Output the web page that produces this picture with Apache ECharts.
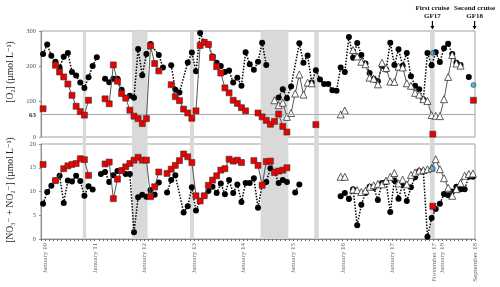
<!DOCTYPE html>
<html><head><meta charset="utf-8">
<script src="https://cdn.jsdelivr.net/npm/echarts@6/dist/echarts.min.js"></script>
<style>html,body{margin:0;padding:0;background:#fff}#c{width:500px;height:287px}</style>
</head><body><div id="c"></div><script>
// ---- data (dates as YYYY-MM = mid-month, or YYYY-MM-DD) ----
const tickLabels = {1:'January 10',13:'January 11',25:'January 12',37:'January 13',49:'January 14',61:'January 15',73:'January 16',85:'January 17',95:'November 17',97:'January 18',105:'September 18'};
const bands = [['2010-10-04','2010-10-28'],['2011-10-01','2012-01-25'],['2012-12-02','2013-01-01'],['2014-05-05','2014-11-26'],['2015-06-04','2015-07-07'],['2017-10-04','2017-11-08']];
const o2Threshold = 63;
const cruises = [['First cruise','GF17','2017-10-22'],['Second cruise','GF18','2018-08-28']];

const o2Circles = [
['2009-12',235],['2010-01',262],['2010-02',230],['2010-03',213],['2010-04',197],['2010-05',227],['2010-06',238],['2010-07',184],['2010-08',174],['2010-09',154],['2010-10',139],['2010-11',169],['2010-12',201],['2011-01',226],['2011-02',null],
['2011-03',165],['2011-04',155],['2011-05',165],['2011-06',165],['2011-07',134],['2011-08',111],['2011-09',117],['2011-10',111],['2011-11',249],['2011-12',175],['2012-01',235],['2012-02',263],['2012-04',232],['2012-05',197],['2012-06',null],
['2012-07',203],['2012-08',134],['2012-09',126],['2012-11',211],['2012-12',239],['2013-01',186],['2013-02',294],['2013-03',268],['2013-04',262],['2013-05',228],['2013-06',210],['2013-07',201],['2013-08',184],['2013-09',188],['2013-10',154],['2013-11',168],['2013-12',145],['2014-01',240],['2014-02',206],['2014-03',190],['2014-04',213],['2014-05',267],['2014-06',204],['2014-07',null],
['2014-09',112],['2014-10',135],['2014-11',110],['2014-12',143],['2015-02',265],['2015-03',210],['2015-04',231],['2015-05',154],['2015-06',189],['2015-07',163],['2015-08',150],['2015-09',150],['2015-10',132],['2015-11',131],['2015-12',197],['2016-01',184],['2016-02',283],['2016-03',224],['2016-04',266],['2016-05',232],['2016-06',208],['2016-07',181],['2016-08',165],['2016-09',158],['2016-10',201],['2016-11',191],['2016-12',267],['2017-01',204],['2017-02',248],['2017-03',202],['2017-04',238],['2017-05',172],['2017-06',145],['2017-07',135],['2017-08',106],['2017-09',238],['2017-10',203],['2017-11',240],['2017-12',212],['2018-01',251],['2018-02',264],['2018-03',235],['2018-04',210],['2018-05',204],['2018-06',null],['2018-07',170]
];
const o2Squares = [
['2009-12',80],['2010-01',null],['2010-03',203],['2010-04',184],['2010-05',170],['2010-06',150],['2010-07',118],['2010-08',87],['2010-09',72],['2010-10',62],['2010-11',104],['2010-12',null],
['2011-03',108],['2011-04',94],['2011-05',204],['2011-06',158],['2011-07',123],['2011-08',110],['2011-09',76],['2011-10',59],['2011-11',52],['2011-12',38],['2012-01',52],['2012-02',258],['2012-03',208],['2012-04',187],['2012-05',null],
['2012-07',148],['2012-08',114],['2012-09',103],['2012-10',79],['2012-11',68],['2012-12',53],['2013-01',74],['2013-02',259],['2013-03',268],['2013-04',262],['2013-05',225],['2013-06',199],['2013-07',181],['2013-08',139],['2013-09',125],['2013-10',104],['2013-11',95],['2013-12',83],['2014-01',74],['2014-02',null],
['2014-04',68],['2014-05',57],['2014-06',47],['2014-07',36],['2014-08',44],['2014-09',65],['2014-10',30],['2014-11',14],['2014-12',null],
['2015-06',35],['2015-07',null],['2017-10-25',8],['2017-11',null],['2018-08-20',104]
];
const o2Triangles = [
['2014-08',104],['2014-09',90],['2014-10',97],['2014-11',57],['2014-12',68],['2015-01',123],['2015-02',177],['2015-03',120],['2015-04',154],['2015-05',152],['2015-06',null],
['2015-12',64],['2016-01',75],['2016-02',null],
['2016-03',246],['2016-04',228],['2016-05',213],['2016-06',206],['2016-07',168],['2016-08',165],['2016-09',149],['2016-10',210],['2016-11',195],['2016-12',157],['2017-01',156],['2017-02',199],['2017-03',197],['2017-04',152],['2017-05',145],['2017-06',125],['2017-07',120],['2017-08',107],['2017-09',102],['2017-10',62],['2017-11',60],['2017-12',59],['2018-01',107],['2018-02',170],['2018-03',232],['2018-04',208],['2018-05',202]
];
const o2Cruise = [['2017-10-25',238],['2018-08-20',147]];

const noxCircles = [
['2009-12',7.4],['2010-01',9.9],['2010-02',11.2],['2010-03',12.3],['2010-04',13.3],['2010-05',7.6],['2010-06',12.3],['2010-07',12.1],['2010-08',13.3],['2010-09',12.2],['2010-10',9.1],['2010-11',11.1],['2010-12',10.4],['2011-01',null],
['2011-02',13.7],['2011-03',14.1],['2011-04',12.0],['2011-05',13.4],['2011-06',14.3],['2011-07',14.4],['2011-08',13.7],['2011-09',13.7],['2011-10',1.4],['2011-11',8.8],['2011-12',9.3],['2012-01',8.9],['2012-02',10.3],['2012-03',9.3],['2012-04',11.9],['2012-05',null],
['2012-06',9.8],['2012-07',12.4],['2012-08',13.4],['2012-10',5.6],['2012-11',6.9],['2012-12',10.9],['2013-01',6.0],['2013-02',8.0],['2013-03',9.1],['2013-04',10.1],['2013-05',11.0],['2013-06',9.7],['2013-07',11.7],['2013-08',9.4],['2013-09',12.4],['2013-10',9.7],['2013-11',11.5],['2013-12',7.8],['2014-01',11.8],['2014-02',11.8],['2014-03',12.8],['2014-04',6.6],['2014-05',11.3],['2014-06',12.0],['2014-07',14.9],['2014-08',14.1],['2014-09',11.8],['2014-10',12.4],['2014-11',12.0],['2014-12',null],
['2015-01',9.8],['2015-02',11.5],['2015-03',null],
['2015-12',9.0],['2016-01',9.7],['2016-02',8.4],['2016-03',10.5],['2016-04',2.9],['2016-05',7.2],['2016-06',9.7],['2016-07',11.0],['2016-08',10.8],['2016-09',8.2],['2016-10',11.8],['2016-11',12.0],['2016-12',5.7],['2017-01',12.3],['2017-02',8.5],['2017-03',11.5],['2017-04',8.0],['2017-05',10.9],['2017-06',13.0],['2017-07',14.3],['2017-08',14.2],['2017-09',0.5],['2017-10',4.4],['2017-11',6.3],['2017-12',7.4],['2018-01',9.5],['2018-02',9.2],['2018-03',10.0],['2018-04',11.0],['2018-05',10.5],['2018-06',10.5],['2018-07',13.1],['2018-08',13.1]
];
const noxSquares = [
['2009-12',15.7],['2010-01',null],['2010-03',12.3],['2010-05',14.8],['2010-06',15.4],['2010-07',15.7],['2010-08',15.9],['2010-09',16.9],['2010-10',16.7],['2010-11',13.4],['2010-12',null],
['2011-03',15.8],['2011-04',16.2],['2011-05',8.5],['2011-06',12.6],['2011-07',14.4],['2011-08',15.2],['2011-09',15.9],['2011-10',16.6],['2011-11',17.2],['2011-12',16.6],['2012-01',16.6],['2012-02',8.9],['2012-03',11.0],['2012-04',14.1],['2012-05',null],
['2012-06',13.8],['2012-07',14.7],['2012-08',15.5],['2012-09',16.5],['2012-10',17.9],['2012-11',17.3],['2012-12',16.1],['2013-01',9.1],['2013-02',8.0],['2013-03',9.1],['2013-04',11.3],['2013-05',12.4],['2013-06',13.3],['2013-07',14.5],['2013-08',14.8],['2013-09',16.8],['2013-10',16.4],['2013-11',16.6],['2013-12',16.1],['2014-01',null],
['2014-03',16.5],['2014-04',15.5],['2014-05',11.3],['2014-06',16.3],['2014-07',16.4],['2014-08',14.0],['2014-09',14.3],['2014-10',14.5],['2014-11',15.0],['2014-12',null],
['2017-10-25',6.9]
];
const noxTriangles = [
['2015-12',13.1],['2016-01',13.1],['2016-02',null],
['2016-03',10.4],['2016-04',10.3],['2016-05',9.9],['2016-06',10.2],['2016-07',11.0],['2016-08',11.3],['2016-09',11.6],['2016-10',11.5],['2016-11',12.3],['2016-12',13.1],['2017-01',13.9],['2017-02',11.7],['2017-03',12.5],['2017-04',11.5],['2017-05',13.5],['2017-06',14.0],['2017-07',14.4],['2017-08',14.5],['2017-09',14.7],['2017-10',15.0],['2017-11',16.8],['2017-12',14.7],['2018-01',12.8],['2018-02',10.8],['2018-03',9.1],['2018-04',10.5],['2018-05',11.8],['2018-06',13.3],['2018-07',13.7],['2018-08',13.8]
];
const noxCruise = [['2017-10-25',14.9]];

// ---- helpers ----
function toM(s){const p=s.split('-').map(Number);return (p[0]-2009)*12+(p[1]-12)+(p.length>2?(p[2]-1)/30:0.5);}
function pts(arr){return arr.map(d=>[toM(d[0]), d[1]==null?'-':d[1]]);}
const SERIF='"Liberation Serif","DejaVu Serif",serif';
const X0=0,X1=105;

const circleS=(data,xi)=>({type:'line',xAxisIndex:xi,yAxisIndex:xi,data:pts(data),symbol:'circle',symbolSize:6,z:3,
  itemStyle:{color:'#000'},lineStyle:{color:'#000',width:1.5,type:[1.5,1.5]}});
const triS=(data,xi)=>({type:'line',xAxisIndex:xi,yAxisIndex:xi,data:pts(data),symbol:'triangle',symbolSize:7,z:4,
  itemStyle:{color:'#fff',borderColor:'#333',borderWidth:0.8},lineStyle:{color:'#555',width:1}});
const sqS=(data,xi)=>({type:'line',xAxisIndex:xi,yAxisIndex:xi,data:pts(data),symbol:'rect',symbolSize:6,z:5,
  itemStyle:{color:'#ee0000',borderColor:'#333',borderWidth:0.6},lineStyle:{color:'#555',width:1}});
const cyS=(data,xi)=>({type:'scatter',xAxisIndex:xi,yAxisIndex:xi,data:pts(data),symbol:'circle',symbolSize:5,z:6,
  itemStyle:{color:'#2aa6d6',borderColor:'#222',borderWidth:0.6}});
const bandS=(xi)=>({type:'line',xAxisIndex:xi,yAxisIndex:xi,data:[],z:1,silent:true,
  markArea:{silent:true,itemStyle:{color:'#d9d9d9'},data:bands.map(b=>[{xAxis:toM(b[0])},{xAxis:toM(b[1])}])}});

const axisGrey='#8c8c8c';
const option={
  animation:false,
  grid:[
    {left:41,top:31,width:434,height:106,show:true,borderColor:'#a0a0a0',borderWidth:1},
    {left:41,top:144,width:434,height:95,show:true,borderColor:'#a0a0a0',borderWidth:1},
    {left:41,top:137,width:434,height:7,show:false}
  ],
  xAxis:[
    {type:'value',gridIndex:0,min:X0,max:X1,interval:1,axisLine:{show:false},axisTick:{show:false},axisLabel:{show:false},splitLine:{show:false}},
    {type:'value',gridIndex:1,min:X0,max:X1,interval:1,axisLine:{show:true,lineStyle:{color:axisGrey}},
     axisTick:{show:true,length:2,lineStyle:{color:'#666'}},splitLine:{show:false},
     axisLabel:{rotate:90,fontSize:7,fontFamily:SERIF,color:'#6a6a6a',margin:4,showMinLabel:true,showMaxLabel:true,
       formatter:v=>tickLabels[Math.round(v)]||''}},
    {type:'value',gridIndex:2,min:X0,max:X1,show:false}
  ],
  yAxis:[
    {type:'value',gridIndex:0,min:0,max:300,interval:100,axisLine:{show:true,lineStyle:{color:axisGrey}},
     axisTick:{show:true,length:2,lineStyle:{color:axisGrey}},splitLine:{show:false},
     axisLabel:{fontSize:6.5,fontFamily:SERIF,color:'#555',margin:5}},
    {type:'value',gridIndex:1,min:0,max:20,interval:5,axisLine:{show:true,lineStyle:{color:axisGrey}},
     axisTick:{show:true,length:2,lineStyle:{color:axisGrey}},splitLine:{show:false},
     axisLabel:{fontSize:6.5,fontFamily:SERIF,color:'#555',margin:5}},
    {type:'value',gridIndex:2,min:0,max:1,show:false}
  ],
  series:[
    bandS(0),bandS(1),bandS(2),
    {type:'line',xAxisIndex:0,yAxisIndex:0,data:[],z:2,silent:true,
     markLine:{silent:true,symbol:'none',lineStyle:{color:'#a8a8a8',width:1,type:'solid'},
       label:{position:'start',formatter:String(o2Threshold),fontSize:7,fontWeight:'bold',fontFamily:SERIF,color:'#333',distance:5},
       data:[{yAxis:o2Threshold}]}},
    circleS(o2Circles,0),triS(o2Triangles,0),sqS(o2Squares,0),cyS(o2Cruise,0),
    circleS(noxCircles,1),triS(noxTriangles,1),sqS(noxSquares,1),cyS(noxCruise,1)
  ],
  graphic:[]
};
const chart=echarts.init(document.getElementById('c'),null,{renderer:'canvas'});
chart.setOption(option);

// annotations placed through the axis scale
const g=[];
g.push({type:'text',x:10,y:72,rotation:Math.PI/2,style:{text:'[O\u2082] (\u00b5mol L\u207b\u00b9)',font:'9.5px '+SERIF,fill:'#222',textAlign:'center',textVerticalAlign:'middle'}});
g.push({type:'text',x:10,y:190,rotation:Math.PI/2,style:{text:'[NO\u2083\u207b + NO\u2082\u207b] (\u00b5mol L\u207b\u00b9)',font:'9.5px '+SERIF,fill:'#222',textAlign:'center',textVerticalAlign:'middle'}});
cruises.forEach(c=>{
  const px=chart.convertToPixel({xAxisIndex:0},toM(c[2]));
  g.push({type:'text',x:px,y:8,style:{text:c[0],font:'bold 7px '+SERIF,fill:'#111',textAlign:'center',textVerticalAlign:'middle'}});
  g.push({type:'text',x:px,y:16.5,style:{text:c[1],font:'bold 7px '+SERIF,fill:'#111',textAlign:'center',textVerticalAlign:'middle'}});
  g.push({type:'line',shape:{x1:px,y1:21,x2:px,y2:26},style:{stroke:'#000',lineWidth:1.2}});
  g.push({type:'polygon',shape:{points:[[px-2,26],[px+2,26],[px,29.5]]},style:{fill:'#000'}});
});
chart.setOption({graphic:g});
</script></body></html>
